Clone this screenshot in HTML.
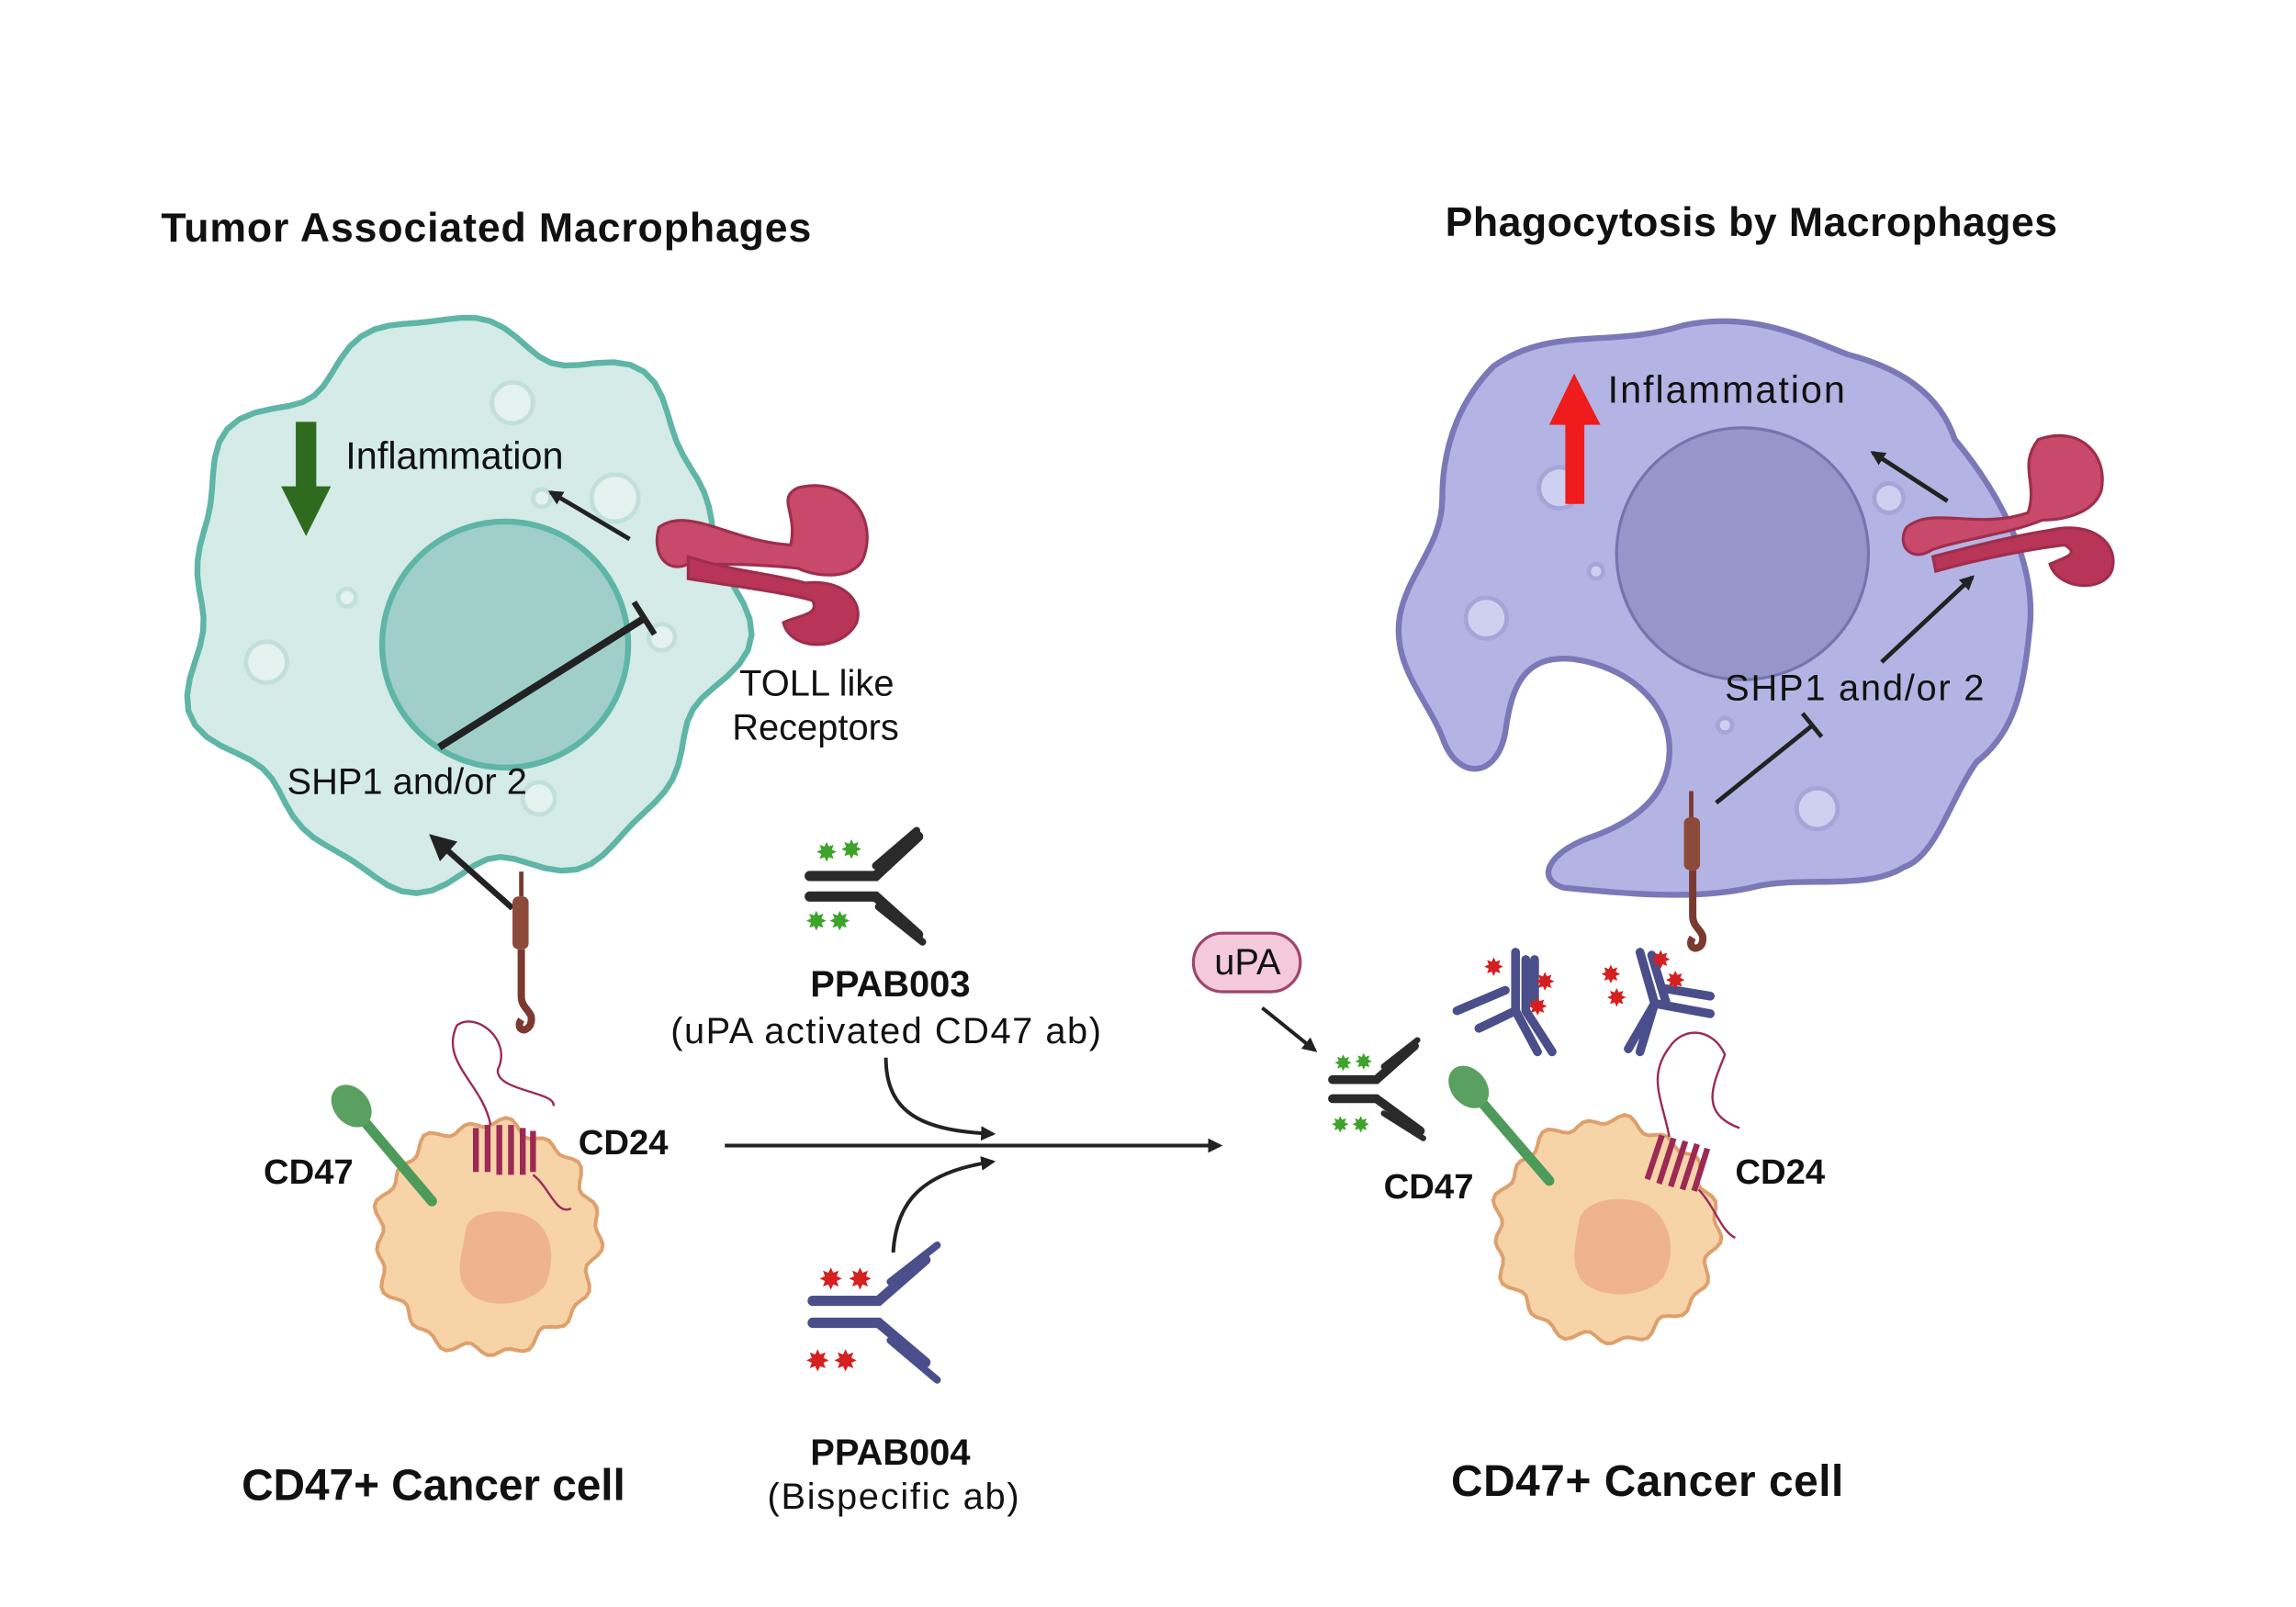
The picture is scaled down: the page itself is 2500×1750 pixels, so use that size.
<!DOCTYPE html>
<html><head><meta charset="utf-8"><style>
html,body{margin:0;padding:0;background:#fff}
svg{display:block}
text{font-family:"Liberation Sans",sans-serif;fill:#111}
.b{font-weight:bold}
.g{fill:#3da32a !important}
.r{fill:#d42020 !important}
</style></head><body>
<svg width="2500" height="1750" viewBox="0 0 1568 1097" preserveAspectRatio="none" xmlns="http://www.w3.org/2000/svg">
<defs>
<marker id="ah" markerWidth="10" markerHeight="10" refX="8" refY="5" orient="auto" markerUnits="userSpaceOnUse"><path d="M0,0 L10,5 L0,10 Z" fill="#222"/></marker>
<marker id="ahb" markerWidth="18" markerHeight="18" refX="14" refY="9" orient="auto" markerUnits="userSpaceOnUse"><path d="M0,0 L18,9 L0,18 Z" fill="#222"/></marker>
</defs>
<rect width="1568" height="1097" fill="#fff"/>
<text x="110" y="165" class="b" font-size="28" textLength="444">Tumor Associated Macrophages</text>
<text x="987" y="161" class="b" font-size="28" textLength="418">Phagocytosis by Macrophages</text>

<!-- left macrophage -->
<path id="lm" fill="#d4ebe8" stroke="#5fb5a6" stroke-width="4"/>
<g fill="#e4f2f0" stroke="#c2e0db" stroke-width="3">
<circle cx="350" cy="275" r="14"/><circle cx="420" cy="340" r="16"/><circle cx="182" cy="452" r="14"/><circle cx="237" cy="408" r="6"/><circle cx="452" cy="435" r="9"/><circle cx="368" cy="545" r="11"/><circle cx="370" cy="340" r="6"/>
</g>
<circle cx="345" cy="440" r="84" fill="#a0cfc9" stroke="#5fb5a6" stroke-width="4"/>
<path d="M202,288 H216 V332 H226 L209,366 L192,332 H202 Z" fill="#2f6b1f"/>
<text x="236" y="320" font-size="26">Inflammation</text>
<line x1="430" y1="368" x2="376" y2="336" stroke="#222" stroke-width="3" marker-end="url(#ah)"/>
<line x1="300" y1="510" x2="440" y2="422" stroke="#222" stroke-width="5"/>
<line x1="433" y1="411" x2="447" y2="433" stroke="#222" stroke-width="4"/>
<text x="196" y="542" font-size="25">SHP1 and/or 2</text>
<!-- TLR left -->
<g fill="#c9496a" stroke="#9e2e4c" stroke-width="2">
<path d="M450,360 C470,345 500,370 540,372 C545,350 530,340 545,333 C575,325 600,350 590,380 C585,395 560,395 545,388 C520,385 490,385 470,385 C455,392 445,378 450,360 Z"/>
<path d="M470,380 C500,390 530,392 550,398 C575,395 590,410 585,425 C575,445 540,445 535,425 C545,420 560,420 555,410 C540,405 500,400 470,395 Z" fill="#b83558"/>
</g>
<text x="505" y="475" font-size="25">TOLL like</text>
<text x="500" y="505" font-size="25">Receptors</text>
<line x1="350" y1="620" x2="296" y2="572" stroke="#222" stroke-width="4" marker-end="url(#ahb)"/>
<line x1="356" y1="595" x2="356" y2="612" stroke="#7a3a30" stroke-width="3"/>
<rect x="350" y="612" width="11" height="36" rx="4" fill="#8c4a3a"/>
<path d="M356,648 V680 C356,690 366,690 362,700 C358,706 352,702 356,696" fill="none" stroke="#7a3a30" stroke-width="5"/>

<!-- cancer cell left -->
<path id="lc" fill="#f6d4a8" stroke="#dea06d" stroke-width="2.5"/>
<path d="M318,840 C320,825 345,825 360,830 C378,838 380,860 372,878 C360,892 330,895 318,880 C310,868 316,855 318,840Z" fill="#efb48e"/>
<line x1="240" y1="755" x2="295" y2="820" stroke="#4e9a5a" stroke-width="7" stroke-linecap="round"/>
<ellipse cx="240" cy="755" rx="12" ry="16" transform="rotate(-40 240 755)" fill="#5aa060"/>
<g stroke="#9c2a55" stroke-width="4" fill="none">
<path d="M325,800 V770 M333,800 V768 M341,802 V768 M349,802 V768 M357,802 V770 M364,800 V772"/>
<path d="M335,768 C330,740 300,725 312,700 C325,690 350,710 340,730 C338,745 380,745 378,755" stroke-width="1.5"/>
<path d="M364,802 C375,810 380,830 390,825" stroke-width="1.5"/>
</g>
<text x="180" y="808" class="b" font-size="24">CD47</text>
<text x="395" y="788" class="b" font-size="24">CD24</text>

<!-- middle -->
<line x1="495" y1="782" x2="833" y2="782" stroke="#222" stroke-width="2.5" marker-end="url(#ah)"/>
<path d="M605,722 C605,760 630,772 678,774" fill="none" stroke="#222" stroke-width="2.5" marker-end="url(#ah)"/>
<path d="M610,855 C612,820 630,800 678,793" fill="none" stroke="#222" stroke-width="2.5" marker-end="url(#ah)"/>
<g stroke="#2a2a2a" stroke-width="7" stroke-linecap="round" fill="none">
<path d="M553,598 H598 L627,571"/>
<path d="M553,612 H598 L627,638"/>
<path d="M598,591 L626,567" stroke-width="5"/><path d="M600,619 L630,643" stroke-width="5"/>
</g>
<g font-size="18"><text x="557" y="588" class="g">✸</text><text x="574" y="586" class="g">✸</text><text x="550" y="635" class="g">✸</text><text x="566" y="635" class="g">✸</text></g>
<text x="608" y="680" class="b" font-size="25" text-anchor="middle">PPAB003</text>
<text x="605" y="712" font-size="25" text-anchor="middle" textLength="294">(uPA activated CD47 ab)</text>
<g stroke="#4a4e8a" stroke-width="7" stroke-linecap="round" fill="none">
<path d="M555,888 H600 L632,860"/><path d="M555,903 H600 L632,930"/>
<path d="M608,875 L640,850" stroke-width="5"/><path d="M608,915 L640,942" stroke-width="5"/>
</g>
<g font-size="20"><text x="559" y="880" class="r">✸</text><text x="579" y="880" class="r">✸</text><text x="550" y="936" class="r">✸</text><text x="569" y="936" class="r">✸</text></g>
<text x="608" y="1000" class="b" font-size="25" text-anchor="middle">PPAB004</text>
<text x="610" y="1030" font-size="25" text-anchor="middle" textLength="172">(Bispecific ab)</text>
<text x="296" y="1024" class="b" font-size="30" text-anchor="middle" textLength="262">CD47+ Cancer cell</text>
<text x="1125" y="1021" class="b" font-size="30" text-anchor="middle" textLength="268">CD47+ Cancer cell</text>

<!-- right macrophage -->
<path d="M1020,250 C1060,222 1100,238 1150,222 C1200,212 1235,232 1262,242 C1300,252 1325,270 1335,300 C1360,330 1392,380 1386,430 C1382,470 1376,500 1350,520 C1332,545 1322,585 1300,592 C1275,608 1230,598 1200,605 C1160,615 1110,610 1068,606 C1048,600 1058,582 1085,572 C1120,560 1142,540 1140,508 C1138,478 1110,455 1075,450 C1040,446 1032,470 1028,500 C1022,532 996,532 986,506 C976,478 950,455 956,420 C962,390 985,372 985,340 C985,300 1000,270 1020,250 Z" fill="#b4b4e4" stroke="#7b78b8" stroke-width="4"/>
<g fill="#cfcff0" stroke="#a5a5d8" stroke-width="3"><circle cx="1065" cy="333" r="14"/><circle cx="1015" cy="422" r="14"/><circle cx="1241" cy="552" r="14"/><circle cx="1290" cy="340" r="10"/><circle cx="1090" cy="390" r="5"/><circle cx="1178" cy="495" r="5"/></g>
<circle cx="1190" cy="378" r="86" fill="#9696cb" stroke="#7474ae" stroke-width="2"/>
<path d="M1069,344 H1082 V290 H1093 L1075,255 L1058,290 H1069 Z" fill="#ee1c1c"/>
<text x="1098" y="275" font-size="26" textLength="162">Inflammation</text>
<line x1="1330" y1="342" x2="1279" y2="309" stroke="#222" stroke-width="3" marker-end="url(#ah)"/>
<line x1="1285" y1="452" x2="1347" y2="394" stroke="#222" stroke-width="3" marker-end="url(#ah)"/>
<text x="1178" y="478" font-size="25" textLength="177">SHP1 and/or 2</text>
<line x1="1172" y1="548" x2="1238" y2="495" stroke="#222" stroke-width="3"/>
<line x1="1231" y1="487" x2="1244" y2="503" stroke="#222" stroke-width="3"/>
<g fill="#c9496a" stroke="#9e2e4c" stroke-width="2">
<path d="M1302,360 C1320,345 1350,362 1385,350 C1392,330 1378,318 1392,300 C1420,290 1440,310 1435,335 C1430,350 1410,355 1395,355 C1370,365 1340,368 1320,375 C1305,385 1295,372 1302,360 Z"/>
<path d="M1320,380 C1350,372 1380,365 1400,362 C1430,355 1448,372 1442,390 C1435,405 1405,402 1400,385 C1412,380 1420,378 1410,372 C1385,375 1350,382 1322,390 Z" fill="#b83558"/>
</g>
<line x1="1155" y1="540" x2="1155" y2="558" stroke="#7a3a30" stroke-width="3"/>
<rect x="1150" y="558" width="11" height="36" rx="4" fill="#8c4a3a"/>
<path d="M1156,594 V625 C1156,635 1166,635 1162,645 C1158,650 1152,646 1156,640" fill="none" stroke="#7a3a30" stroke-width="5"/>
<rect x="815" y="637" width="73" height="40" rx="20" fill="#f5c9dc" stroke="#a0446e" stroke-width="2"/>
<text x="852" y="665" font-size="25" text-anchor="middle">uPA</text>
<line x1="862" y1="688" x2="898" y2="717" stroke="#222" stroke-width="2.5" marker-end="url(#ah)"/>
<g stroke="#2a2a2a" stroke-width="6" stroke-linecap="round" fill="none">
<path d="M910,737 H940 L966,714"/><path d="M910,750 H940 L970,772"/>
<path d="M945,728 L968,710" stroke-width="4"/><path d="M945,760 L972,777" stroke-width="4"/>
</g>
<g font-size="15"><text x="911" y="731" class="g">✸</text><text x="925" y="730" class="g">✸</text><text x="909" y="773" class="g">✸</text><text x="923" y="773" class="g">✸</text></g>
<g stroke="#4a4e8a" stroke-width="6" stroke-linecap="round" fill="none">
<path d="M1035,650 V690 L1050,718 M1042,655 V690 M1035,690 L1010,702 M1028,676 L995,690 M1042,690 L1060,718 M1048,655 V685"/>
<path d="M1120,650 L1130,685 L1120,718 M1128,652 L1138,685 M1130,685 L1168,692 M1138,675 L1168,680 M1130,685 L1112,716"/>
</g>
<g font-size="17"><text x="1013" y="666" class="r">✸</text><text x="1048" y="676" class="r">✸</text><text x="1043" y="693" class="r">✸</text><text x="1093" y="671" class="r">✸</text><text x="1097" y="687" class="r">✸</text><text x="1127" y="661" class="r">✸</text><text x="1137" y="675" class="r">✸</text></g>
<path id="rc" fill="#f6d4a8" stroke="#dea06d" stroke-width="2.5"/>
<path d="M1078,835 C1080,818 1108,815 1124,822 C1142,832 1145,856 1136,872 C1125,886 1093,888 1080,874 C1072,862 1076,850 1078,835Z" fill="#efb48e"/>
<line x1="1003" y1="742" x2="1058" y2="806" stroke="#4e9a5a" stroke-width="7" stroke-linecap="round"/>
<ellipse cx="1003" cy="742" rx="12" ry="16" transform="rotate(-40 1003 742)" fill="#5aa060"/>
<g stroke="#9c2a55" stroke-width="4" fill="none">
<path d="M1125,805 L1135,775 M1133,808 L1143,777 M1141,810 L1151,779 M1149,812 L1159,781 M1157,813 L1166,784"/>
<path d="M1140,776 C1135,750 1125,735 1140,715 C1150,700 1170,702 1178,720 C1170,740 1160,760 1188,770" stroke-width="1.5"/>
<path d="M1160,812 C1172,825 1175,840 1185,845" stroke-width="1.5"/>
</g>
<text x="945" y="818" class="b" font-size="24">CD47</text>
<text x="1185" y="808" class="b" font-size="24">CD24</text>
</svg>
<script>
function blob(cx,cy,rx,ry,f){var d="";for(var i=0;i<=360;i+=3){var t=i*Math.PI/180,k=f(t);var x=cx+rx*k*Math.cos(t),y=cy+ry*k*Math.sin(t);d+=(i?"L":"M")+x.toFixed(1)+","+y.toFixed(1);}return d+"Z";}
document.getElementById("lm").setAttribute("d",blob(315,412,185,190,function(t){return 1+0.05*Math.sin(7*t+1)+0.03*Math.sin(12*t)}));
document.getElementById("lc").setAttribute("d",blob(333,845,75,78,function(t){return 1+0.04*Math.sin(17*t)+0.03*Math.sin(9*t+2)}));
document.getElementById("rc").setAttribute("d",blob(1097,840,75,75,function(t){return 1+0.04*Math.sin(17*t)+0.03*Math.sin(9*t+2)}));
</script>
</body></html>
